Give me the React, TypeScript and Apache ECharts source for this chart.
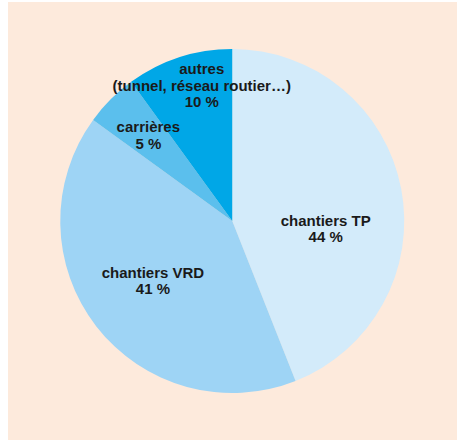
import React, { useEffect, useRef } from "react";
import * as echarts from "echarts";

const categories = [
  "chantiers TP",
  "chantiers VRD",
  "carrières",
  "autres\n(tunnel, réseau routier…)",
];
const values = [44, 41, 5, 10];
const colors = ["#d3ebfa", "#9ed4f5", "#5bbfed", "#00a7e7"];
// label nudges from the default inside position, in px
const labelDx = [6, -9, -21, -3];
const labelDy = [24, 5, -23, -51];

export default function App() {
  const ref = useRef<HTMLDivElement>(null);
  useEffect(() => {
    if (!ref.current) return;
    const chart = echarts.init(ref.current, undefined, { renderer: "svg" });
    chart.setOption({
      animation: false,
      backgroundColor: "#fdeadc",
      series: [
        {
          type: "pie",
          center: [224.25, 219],
          radius: 172,
          startAngle: 90,
          clockwise: true,
          avoidLabelOverlap: false,
          silent: true,
          data: categories.map((name, i) => ({
            name,
            value: values[i],
            itemStyle: { color: colors[i] },
          })),
          label: {
            show: true,
            position: "inside",
            formatter: (p: any) => `${p.name}\n${p.value} %`,
            color: "#1a1a1a",
            fontFamily: "'Liberation Sans', Arial, sans-serif",
            fontWeight: "bold",
            fontSize: 15,
            lineHeight: 16.5,
            align: "center",
          },
          labelLine: { show: false },
          labelLayout: (params: any) => ({
            dx: labelDx[params.dataIndex],
            dy: labelDy[params.dataIndex],
          }),
        },
      ],
    });
    return () => chart.dispose();
  }, []);
  return (
    <div
      ref={ref}
      style={{ position: "absolute", left: 8, top: 2, width: 449, height: 438 }}
    />
  );
}
